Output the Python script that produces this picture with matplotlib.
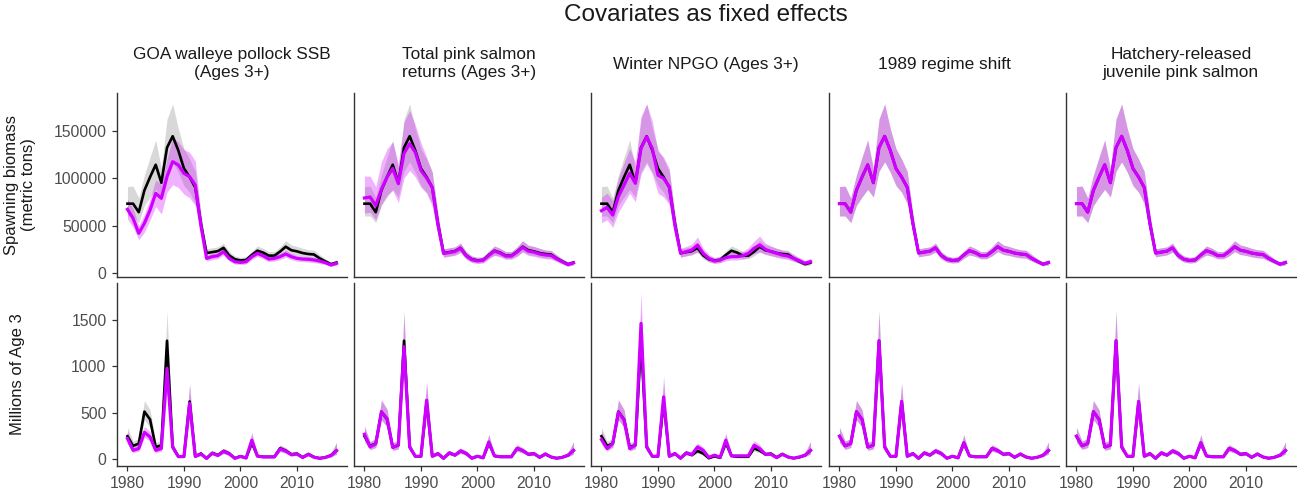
import matplotlib
matplotlib.use("Agg")
import matplotlib.pyplot as plt

plt.rcParams["font.family"] = ["Liberation Sans", "DejaVu Sans"]

# Model years
years = list(range(1980, 2018))

# Base model (no covariate): spawning biomass (t) with 95% interval
base_ssb = [73000, 73000, 64000, 87000, 101000, 114000, 95000, 132000, 144000, 129000,
            110000, 101000, 90000, 52000, 21000, 22000, 23000, 26500, 18500, 14500,
            13200, 13800, 19000, 23500, 21500, 18300, 18300, 22500, 27700, 24000,
            22800, 21000, 20000, 19500, 15500, 12300, 9300, 11000]
base_ssb_lo = [60000, 60000, 53000, 71000, 80000, 88000, 80000, 107000, 117000, 106000,
               92000, 85000, 73000, 42000, 17000, 18000, 19000, 22000, 15000, 11500,
               10500, 11000, 15500, 19000, 17500, 15000, 15000, 18000, 22500, 19500,
               18500, 17000, 16000, 15500, 12500, 10000, 7500, 8500]
base_ssb_hi = [91000, 91500, 79000, 103000, 122000, 140000, 110000, 162000, 178000, 152000,
               131000, 120000, 107000, 62000, 25500, 26500, 27500, 31500, 22500, 18000,
               16500, 17000, 23000, 28500, 26000, 22500, 22500, 27500, 34000, 29500,
               28000, 26000, 24500, 24000, 19500, 15000, 11500, 14000]

# Base model: age-3 recruits (millions)
base_rec = [243, 138, 163, 510, 425, 125, 145, 1279, 125, 25, 25, 620, 26, 55, 3, 62, 38, 83,
            56, 4, 26, 8, 172, 30, 20, 20, 20, 112, 87, 47, 54, 14, 50, 18, 4, 14, 36, 88]
base_rec_lo = [175, 100, 120, 420, 340, 90, 105, 1000, 90, 15, 15, 480, 15, 35, 1, 42, 24, 58,
               36, 2, 15, 4, 120, 18, 12, 12, 12, 80, 62, 32, 36, 8, 34, 10, 2, 8, 20, 50]
base_rec_hi = [340, 190, 220, 630, 530, 175, 200, 1600, 175, 40, 40, 820, 40, 80, 8, 90, 60, 115,
               85, 10, 42, 15, 260, 48, 32, 32, 32, 150, 118, 70, 80, 24, 75, 30, 8, 26, 62, 180]

# Covariate model 1: GOA walleye pollock SSB
pollock_ssb = [67000, 57500, 41800, 52300, 66300, 83900, 78600, 101400, 117200, 113700,
               104900, 101400, 92600, 50000, 15400, 17200, 18200, 22500, 15400, 11900,
               11200, 11900, 17200, 20700, 18200, 14700, 15400, 17200, 20000, 17200,
               15400, 14700, 14400, 13700, 12600, 10900, 8400, 10200]
pollock_ssb_lo = [57000, 48000, 35000, 43000, 56000, 70000, 62000, 85000, 93000, 90000,
                  83000, 79000, 71000, 40000, 12500, 14000, 15000, 19000, 12500, 9500,
                  9000, 9500, 14000, 17500, 15000, 12000, 12500, 14000, 16500, 14000,
                  12500, 12000, 11500, 11000, 10000, 9000, 7000, 8500]
pollock_ssb_hi = [78000, 68000, 50000, 62000, 78000, 98000, 93000, 120000, 143000, 138000,
                  130000, 127000, 118000, 62000, 18500, 20500, 21500, 26000, 18500, 14500,
                  13500, 14500, 20500, 24500, 21500, 17500, 18500, 20500, 24000, 20500,
                  18500, 17500, 17500, 16500, 15000, 13000, 10000, 12500]
pollock_rec = [217, 90, 109, 285, 235, 90, 109, 980, 125, 22, 22, 600, 24, 50, 2, 58, 34, 78,
               52, 3, 24, 6, 200, 26, 18, 18, 18, 105, 82, 42, 50, 12, 46, 15, 3, 12, 32, 85]
pollock_rec_lo = [160, 65, 80, 230, 190, 65, 80, 720, 90, 12, 12, 450, 14, 32, 1, 40, 22, 55,
                  34, 1, 14, 3, 140, 16, 10, 10, 10, 75, 58, 28, 34, 7, 30, 8, 1, 7, 18, 45]
pollock_rec_hi = [300, 125, 150, 350, 290, 125, 150, 1250, 170, 36, 36, 800, 38, 78, 6, 84, 54, 110,
                  80, 8, 40, 14, 290, 44, 30, 30, 30, 145, 115, 64, 74, 22, 68, 26, 7, 24, 56, 170]

# Covariate model 2: total pink salmon returns
pink_ssb = [79000, 80000, 71000, 88000, 101000, 110000, 94000, 126000, 136000, 127000,
            108000, 100000, 90000, 51000, 20500, 21500, 22500, 26000, 18000, 14000,
            12800, 13400, 18500, 23000, 21000, 17800, 17800, 22000, 27000, 23000,
            22000, 20000, 19000, 18500, 15000, 11800, 8800, 10700]
pink_ssb_lo = [63000, 64000, 56000, 72000, 82000, 87000, 74000, 100000, 108000, 101000,
               90000, 84000, 70000, 40000, 16500, 17500, 18500, 21500, 14500, 11000,
               10000, 10500, 15000, 18500, 17000, 14500, 14500, 17500, 22000, 18500,
               17500, 16000, 15000, 14500, 12000, 9500, 7000, 8500]
pink_ssb_hi = [102000, 102000, 91000, 117000, 131000, 138000, 115000, 159000, 171000, 156000,
               137000, 122000, 106000, 63000, 25500, 26500, 27500, 31500, 22500, 18000,
               16500, 17000, 23000, 28500, 26000, 22500, 22500, 27500, 34000, 29000,
               28000, 26000, 24000, 23500, 19000, 15000, 11500, 13500]
pink_rec = [264, 127, 160, 507, 435, 120, 145, 1214, 125, 25, 25, 634, 26, 55, 3, 62, 38, 83,
            56, 4, 26, 8, 181, 30, 20, 20, 20, 112, 87, 47, 54, 14, 50, 18, 4, 14, 36, 90]
pink_rec_lo = [200, 95, 120, 420, 350, 88, 105, 950, 90, 15, 15, 490, 15, 35, 1, 42, 24, 58,
               36, 2, 15, 4, 125, 18, 12, 12, 12, 80, 62, 32, 36, 8, 34, 10, 2, 8, 20, 50]
pink_rec_hi = [360, 180, 215, 640, 540, 170, 195, 1580, 170, 40, 40, 840, 40, 80, 8, 90, 60, 115,
               85, 10, 42, 15, 265, 48, 32, 32, 32, 150, 118, 70, 80, 24, 75, 30, 8, 26, 62, 185]

# Covariate model 3: winter NPGO
npgo_ssb = [65600, 69000, 61000, 80500, 92600, 105000, 94400, 131000, 143500, 131000,
            103000, 99700, 90900, 50000, 20700, 22500, 24200, 29500, 20700, 15400,
            12600, 13700, 16100, 17200, 17200, 18200, 20700, 26000, 29500, 24900,
            22500, 20700, 18900, 17900, 15400, 13000, 10200, 11900]
npgo_ssb_lo = [53000, 56000, 48000, 64000, 74000, 84000, 75000, 104000, 115000, 104000,
               84000, 80000, 72000, 39000, 16500, 18000, 19500, 22000, 16500, 12000,
               10000, 10800, 12800, 13700, 13700, 14500, 16500, 20500, 22000, 19800,
               18000, 16500, 15000, 14200, 12200, 10300, 8000, 9400]
npgo_ssb_hi = [80000, 84000, 76000, 100000, 116000, 131000, 117000, 165000, 178000, 160000,
               128000, 122000, 110000, 62000, 26000, 28000, 30500, 38000, 26000, 19500,
               16000, 17500, 20500, 22000, 22000, 23000, 26500, 33500, 39000, 31500,
               28500, 26000, 24000, 22800, 19500, 16500, 13000, 15500]
npgo_rec = [207, 109, 163, 507, 417, 109, 145, 1467, 127, 25, 25, 670, 26, 55, 5, 62, 45, 127,
            90, 14, 38, 14, 199, 30, 30, 30, 30, 145, 109, 47, 47, 10, 47, 18, 5, 18, 36, 90]
npgo_rec_lo = [160, 80, 125, 420, 340, 80, 108, 1150, 92, 15, 15, 520, 15, 35, 2, 42, 28, 95,
               64, 6, 24, 7, 140, 18, 18, 18, 18, 105, 78, 32, 32, 5, 32, 10, 2, 10, 20, 50]
npgo_rec_hi = [300, 150, 215, 640, 530, 150, 195, 1810, 175, 40, 40, 900, 40, 80, 10, 90, 68, 170,
               125, 25, 58, 25, 280, 48, 48, 48, 48, 195, 150, 70, 70, 20, 70, 30, 10, 30, 62, 190]

# Covariate models 4 and 5 (regime shift, hatchery releases) give the same
# estimates as the base model
regime_ssb, regime_ssb_lo, regime_ssb_hi = base_ssb, base_ssb_lo, base_ssb_hi
regime_rec, regime_rec_lo, regime_rec_hi = base_rec, base_rec_lo, base_rec_hi
hatchery_ssb, hatchery_ssb_lo, hatchery_ssb_hi = base_ssb, base_ssb_lo, base_ssb_hi
hatchery_rec, hatchery_rec_lo, hatchery_rec_hi = base_rec, base_rec_lo, base_rec_hi

covariates = ["GOA walleye pollock SSB\n(Ages 3+)",
              "Total pink salmon\nreturns (Ages 3+)",
              "Winter NPGO (Ages 3+)",
              "1989 regime shift",
              "Hatchery-released\njuvenile pink salmon"]

cov_ssb = [(pollock_ssb, pollock_ssb_lo, pollock_ssb_hi),
           (pink_ssb, pink_ssb_lo, pink_ssb_hi),
           (npgo_ssb, npgo_ssb_lo, npgo_ssb_hi),
           (regime_ssb, regime_ssb_lo, regime_ssb_hi),
           (hatchery_ssb, hatchery_ssb_lo, hatchery_ssb_hi)]
cov_rec = [(pollock_rec, pollock_rec_lo, pollock_rec_hi),
           (pink_rec, pink_rec_lo, pink_rec_hi),
           (npgo_rec, npgo_rec_lo, npgo_rec_hi),
           (regime_rec, regime_rec_lo, regime_rec_hi),
           (hatchery_rec, hatchery_rec_lo, hatchery_rec_hi)]

MAGENTA = "#CF00FF"
W, H = 1297, 495
fig = plt.figure(figsize=(W / 100, H / 100), dpi=100)


def px_axes(left, top, width, height):
    return fig.add_axes([left / W, 1 - (top + height) / H, width / W, height / H])


def draw_panel(ax, base, cov, ylim):
    mean, lo, hi = base
    cmean, clo, chi = cov
    ax.fill_between(years, lo, hi, color="grey", alpha=0.3, linewidth=0)
    ax.fill_between(years, clo, chi, color=MAGENTA, alpha=0.3, linewidth=0)
    ax.plot(years, mean, color="black", lw=1.9)
    ax.plot(years, cmean, color=MAGENTA, lw=2.3)
    ax.set_xlim(1978.15, 2018.85)
    ax.set_ylim(*ylim)
    for side in ["top", "right"]:
        ax.spines[side].set_visible(False)
    for side in ["left", "bottom"]:
        ax.spines[side].set_color("#333333")
        ax.spines[side].set_linewidth(1.0)
    ax.tick_params(colors="#333333", labelcolor="#4d4d4d", labelsize=11.3,
                   length=3.5, width=0.9, pad=4)


lefts = [117, 354, 591, 829, 1066]
pw = 230
rows = [(93, 184), (283, 183)]

for i, label in enumerate(covariates):
    ax_top = px_axes(lefts[i], rows[0][0], pw, rows[0][1])
    draw_panel(ax_top, (base_ssb, base_ssb_lo, base_ssb_hi), cov_ssb[i], (-4200, 189500))
    ax_top.set_yticks([0, 50000, 100000, 150000])
    ax_top.tick_params(axis="x", bottom=False, labelbottom=False)

    ax_bot = px_axes(lefts[i], rows[1][0], pw, rows[1][1])
    draw_panel(ax_bot, (base_rec, base_rec_lo, base_rec_hi), cov_rec[i], (-80, 1905))
    ax_bot.set_yticks([0, 500, 1000, 1500])
    ax_bot.set_xticks([1980, 1990, 2000, 2010])

    if i == 0:
        ax_top.set_yticklabels(["0", "50000", "100000", "150000"])
    else:
        ax_top.tick_params(axis="y", left=False, labelleft=False)
        ax_bot.tick_params(axis="y", left=False, labelleft=False)

    fig.text((lefts[i] + pw / 2) / W, 1 - 64 / H, label, ha="center", va="center",
             fontsize=12.4, color="#1a1a1a", linespacing=1.25)

fig.text(20 / W, 1 - 185 / H, "Spawning biomass\n(metric tons)", rotation=90,
         ha="center", va="center", fontsize=12, color="#1a1a1a", linespacing=1.1)
fig.text(18 / W, 1 - 374 / H, "Millions of Age 3", rotation=90,
         ha="center", va="center", fontsize=12, color="#1a1a1a")
fig.text(706 / W, 1 - 15 / H, "Covariates as fixed effects", ha="center", va="center",
         fontsize=17.5, color="#1a1a1a")

fig.savefig("out.png", dpi=100)
